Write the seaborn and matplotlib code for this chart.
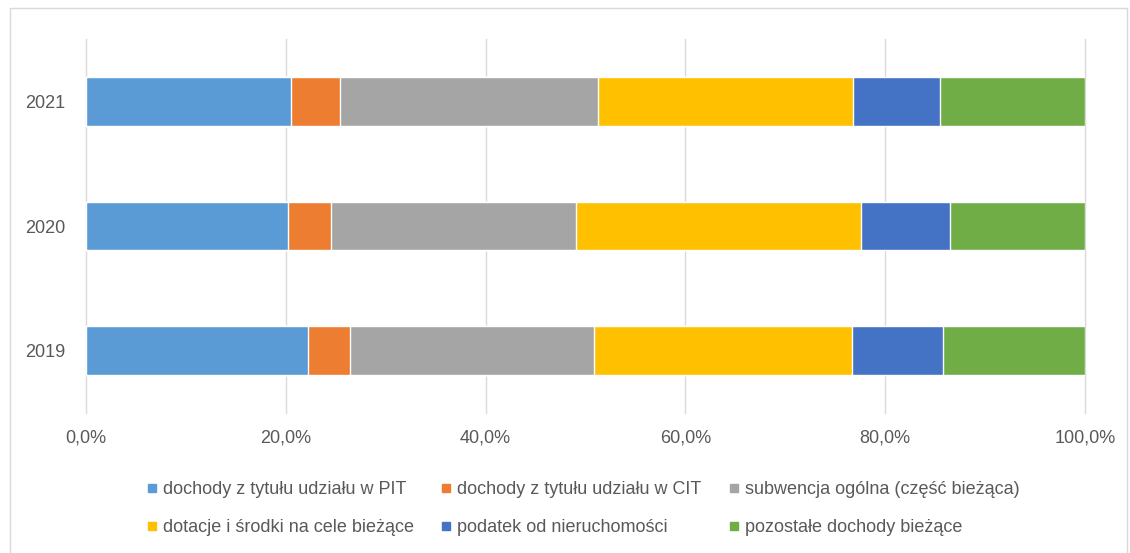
import numpy as np
import pandas as pd
import seaborn as sns
import matplotlib.pyplot as plt
from matplotlib.lines import Line2D

## Data (share of current revenue, %)
years = ['2021', '2020', '2019']
categories = [
    'dochody z tytułu udziału w PIT',
    'dochody z tytułu udziału w CIT',
    'subwencja ogólna (część bieżąca)',
    'dotacje i środki na cele bieżące',
    'podatek od nieruchomości',
    'pozostałe dochody bieżące',
]
pit = [20.5, 20.2, 22.2]
cit = [4.9, 4.3, 4.2]
subwencja = [25.9, 24.5, 24.4]
dotacje = [25.5, 28.6, 25.9]
podatek = [8.7, 8.9, 9.1]
pozostale = [14.5, 13.5, 14.2]

colors = ['#5b9bd5', '#ed7d31', '#a5a5a5', '#ffc000', '#4472c4', '#70ad47']

sns.set_theme(style='white')
plt.rcParams['font.family'] = ['Liberation Sans', 'DejaVu Sans']

df = pd.DataFrame({'rok': years})
series = [pit, cit, subwencja, dotacje, podatek, pozostale]
cum = np.cumsum(np.array(series), axis=0)
for cat, c in zip(categories, cum):
    df[cat] = c

fig = plt.figure(figsize=(11.3, 5.53), dpi=100)
ax = fig.add_axes([0.0761, 0.2537, 0.8841, 0.6749])

# draw cumulative totals from the back so each segment shows
for cat, col in reversed(list(zip(categories, colors))):
    sns.barplot(data=df, x=cat, y='rok', order=years, color=col,
                orient='h', width=0.39, saturation=1, ax=ax)

ax.set_xlim(0, 100)
ax.set_ylim(2.5, -0.5)
ax.set_xticks(np.arange(0, 101, 20))
ax.set_xticklabels([f'{v:.1f}%'.replace('.', ',') for v in np.arange(0, 101, 20)])
ax.set_xlabel('')
ax.set_ylabel('')
ax.grid(axis='x', color='#d9d9d9', linewidth=1)
for gl in ax.xaxis.get_gridlines():
    gl.set_clip_on(False)
ax.set_axisbelow(True)
for s in ax.spines.values():
    s.set_visible(False)
ax.tick_params(axis='both', length=0, labelsize=13, colors='#595959')
ax.tick_params(axis='x', pad=12)
ax.tick_params(axis='y', pad=15)

# legend row-wise: matplotlib fills by column, so reorder
order = [0, 3, 1, 4, 2, 5]
handles = [Line2D([], [], marker='s', linestyle='none', markersize=6,
                  color=colors[i]) for i in order]
labels = [categories[i] for i in order]
fig.legend(handles, labels, loc='center', bbox_to_anchor=(0.515, 0.0805),
           ncol=3, frameon=False, fontsize=13, labelcolor='#595959',
           handletextpad=0.2, columnspacing=1.4, labelspacing=1.15,
           handlelength=0.8)

# outer chart border
fig.add_artist(Line2D([10 / 1130, 10 / 1130], [0, 1 - 8 / 553],
                      transform=fig.transFigure, color='#d9d9d9', linewidth=1))
fig.add_artist(Line2D([10 / 1130, 1127 / 1130], [1 - 8 / 553, 1 - 8 / 553],
                      transform=fig.transFigure, color='#d9d9d9', linewidth=1))
fig.add_artist(Line2D([1127 / 1130, 1127 / 1130], [0, 1 - 8 / 553],
                      transform=fig.transFigure, color='#d9d9d9', linewidth=1))

plt.savefig('out.png', dpi=100)
